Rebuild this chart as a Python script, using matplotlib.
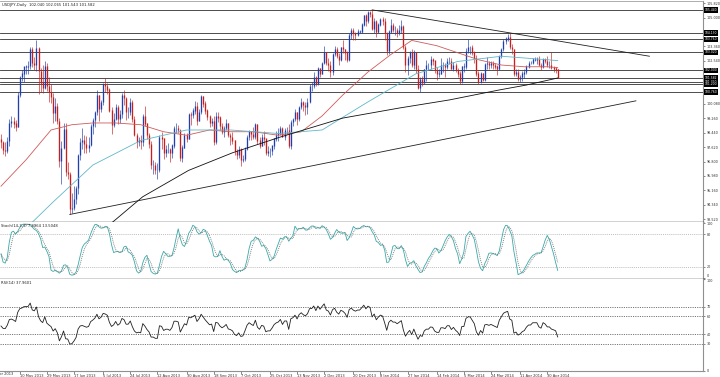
import numpy as np
import pandas as pd
import matplotlib
matplotlib.use("Agg")
import matplotlib.pyplot as plt
import matplotlib.transforms as mtransforms

# ---------------- data (USDJPY daily) ----------------
first_open = 98.05
highs = [
    # Apr 2013
    98.35, 98.00,
    # May
    97.90, 98.20, 99.25, 99.40, 99.35, 99.15, 100.75, 101.65, 102.00, 102.20, 102.30, 102.50, 103.30, 103.35, 102.75, 103.73, 103.30, 102.15, 102.30, 102.50, 102.40, 101.60, 101.20,
    # Jun
    100.70, 100.40, 100.15, 99.30, 98.00, 99.00, 99.00, 96.80, 96.20, 95.00, 95.40, 95.40, 97.25, 98.15, 98.70, 98.30, 98.25, 98.20, 98.95, 99.30,
    # Jul
    99.70, 100.85, 100.60, 100.30, 101.30, 101.55, 101.25, 101.00, 99.90, 99.55, 100.10, 100.00, 99.75, 100.70, 100.85, 100.50, 99.90, 100.40, 100.30, 99.40, 98.40, 98.20, 98.30,
    # Aug
    99.50, 99.95, 99.00, 98.45, 98.00, 96.90, 96.80, 96.70, 98.30, 98.50, 98.15, 97.75, 97.85, 97.60, 97.80, 98.80, 99.00, 98.90, 98.65, 97.75, 98.40, 98.45,
    # Sep
    99.55, 99.60, 99.85, 100.25, 100.20, 99.80, 100.60, 100.55, 100.25, 99.80, 99.45, 99.30, 99.40, 99.65, 99.65, 99.40, 99.00, 98.80, 99.20, 99.00, 98.40,
    # Oct
    98.50, 98.05, 97.50, 97.70, 97.55, 97.20, 97.65, 98.30, 98.60, 98.55, 98.75, 99.00, 98.95, 98.20, 98.35, 98.55, 98.10, 97.70, 97.55, 97.70, 98.15, 98.55, 98.70,
    # Nov
    98.85, 98.75, 98.70, 98.75, 98.95, 99.15, 99.30, 99.80, 99.65, 99.95, 100.40, 100.25, 100.20, 100.40, 101.20, 101.35, 101.90, 101.65, 102.20, 102.15, 102.45,
    # Dec
    103.40, 103.05, 102.70, 102.50, 103.00, 103.40, 103.30, 103.00, 103.35, 103.70, 103.20, 103.10, 104.10, 104.40, 104.40, 104.20, 104.35, 104.30, 104.70, 105.15, 105.20, 105.40,
    # Jan 2014
    105.35, 105.44, 105.00, 104.85, 104.70, 105.00, 105.05, 105.00, 104.20, 104.30, 104.90, 104.70, 104.50, 104.40, 104.60, 104.85, 104.60, 103.45, 102.80, 103.10, 103.20, 103.15, 103.00,
    # Feb
    102.30, 101.60, 101.65, 102.10, 102.60, 102.40, 102.80, 102.70, 102.55, 102.20, 102.10, 102.70, 102.45, 102.40, 102.70, 102.75, 102.70, 102.45, 102.40, 102.15,
    # Mar
    101.95, 102.25, 102.40, 103.25, 103.76, 103.40, 103.45, 103.10, 102.85, 101.95, 101.90, 101.85, 102.40, 102.75, 102.50, 102.55, 102.50, 102.40, 102.30, 102.85, 103.25,
    # Apr
    103.80, 103.90, 104.05, 104.13, 103.50, 103.20, 102.10, 102.05, 101.75, 101.95, 102.05, 102.30, 102.50, 102.55, 102.70, 102.75, 102.75, 102.80, 102.40, 102.70, 102.70, 102.80,
    # May
    102.50, 103.02, 102.25, 102.20, 102.065,
]
lows = [
    97.55, 97.25,
    97.10, 97.30, 97.70, 98.75, 98.70, 98.55, 98.75, 100.50, 101.40, 101.35, 101.80, 101.80, 102.10, 102.20, 102.00, 101.95, 100.65, 100.75, 100.70, 100.95, 100.80, 100.20, 100.15,
    99.00, 99.10, 98.95, 96.50, 95.55, 97.50, 96.00, 95.80, 93.79, 93.90, 94.05, 94.40, 94.95, 96.90, 97.50, 97.30, 97.30, 97.35, 97.70, 98.35,
    98.75, 99.45, 99.10, 99.60, 100.05, 100.75, 100.65, 99.60, 98.35, 98.75, 99.15, 98.95, 99.00, 99.30, 100.00, 99.15, 99.30, 99.45, 99.05, 98.25, 97.55, 97.70, 97.50,
    97.70, 98.80, 98.10, 97.60, 96.40, 96.10, 96.10, 95.80, 96.20, 97.50, 96.95, 97.05, 97.30, 96.75, 97.00, 97.60, 98.40, 98.40, 96.85, 96.80, 97.55, 97.90,
    98.30, 98.90, 99.30, 99.50, 98.90, 99.10, 99.50, 99.90, 99.50, 99.15, 98.75, 98.80, 97.75, 97.80, 99.05, 98.60, 98.35, 98.20, 98.60, 98.20, 97.75,
    97.80, 97.15, 96.95, 97.00, 96.55, 96.80, 96.85, 97.45, 98.05, 98.05, 98.10, 98.10, 97.80, 97.60, 97.75, 97.75, 97.15, 97.10, 97.05, 97.20, 97.50, 97.95, 97.95,
    98.30, 98.20, 98.05, 98.35, 97.60, 97.50, 98.85, 99.10, 98.90, 99.10, 99.80, 99.70, 99.45, 99.50, 100.15, 100.80, 101.00, 101.10, 101.15, 101.60, 101.80,
    102.35, 102.30, 101.95, 101.60, 101.75, 102.80, 102.70, 102.30, 102.50, 103.00, 102.60, 102.45, 102.50, 103.80, 103.70, 103.75, 103.95, 104.10, 104.15, 104.50, 104.50, 104.70,
    105.05, 104.30, 104.15, 103.90, 104.15, 104.50, 104.60, 103.70, 102.85, 102.90, 104.10, 104.20, 104.00, 103.90, 104.00, 104.15, 103.20, 101.90, 101.75, 102.40, 102.20, 102.10, 101.85,
    100.95, 100.76, 101.10, 101.25, 101.40, 102.00, 102.10, 102.30, 101.85, 101.45, 101.60, 101.80, 101.90, 101.60, 102.10, 102.35, 102.05, 101.95, 101.90, 101.60,
    101.20, 101.30, 101.90, 102.10, 103.00, 102.90, 102.85, 102.40, 101.70, 101.20, 101.30, 101.40, 101.40, 102.10, 102.10, 102.15, 102.10, 102.05, 101.75, 102.00, 102.70,
    103.10, 103.50, 103.65, 103.20, 102.95, 101.70, 101.65, 101.40, 101.32, 101.40, 101.55, 101.80, 102.15, 102.35, 102.35, 102.50, 102.35, 102.25, 102.00, 102.15, 102.40, 102.20,
    102.15, 102.10, 101.90, 101.85, 101.543,
]
closes = [
    97.90, 97.45,
    97.40, 97.95, 99.00, 99.10, 98.95, 98.75, 100.60, 101.60, 101.80, 102.20, 102.20, 102.25, 103.20, 102.40, 102.30, 103.25, 101.95, 101.30, 101.00, 102.20, 101.10, 100.75, 100.45,
    99.55, 99.95, 99.10, 96.85, 97.55, 98.65, 96.20, 96.10, 94.10, 94.15, 94.65, 95.30, 97.15, 97.90, 98.00, 97.80, 97.60, 97.75, 98.80, 99.15,
    99.60, 100.60, 99.80, 100.20, 101.20, 101.10, 100.90, 99.70, 98.90, 99.20, 99.90, 99.20, 99.50, 100.60, 100.40, 99.60, 99.60, 100.20, 99.20, 98.30, 97.90, 98.00, 97.90,
    99.40, 98.95, 98.30, 97.80, 96.60, 96.60, 96.30, 96.30, 98.20, 98.10, 97.30, 97.50, 97.50, 97.30, 97.70, 98.70, 98.70, 98.60, 97.00, 97.60, 98.30, 98.10,
    99.50, 99.45, 99.70, 99.95, 99.10, 99.60, 100.50, 100.10, 99.70, 99.35, 99.00, 99.10, 97.90, 99.40, 99.30, 98.80, 98.50, 98.70, 99.00, 98.30, 98.20,
    98.00, 97.40, 97.20, 97.50, 96.90, 96.95, 97.50, 98.20, 98.55, 98.35, 98.20, 98.90, 98.00, 97.70, 98.20, 98.10, 97.30, 97.40, 97.40, 97.70, 98.10, 98.30, 98.40,
    98.70, 98.20, 98.60, 98.60, 97.70, 99.05, 99.20, 99.60, 99.20, 99.90, 100.20, 100.00, 99.90, 100.20, 101.10, 101.10, 101.60, 101.20, 102.10, 101.80, 102.40,
    103.00, 102.40, 102.30, 101.90, 102.90, 103.20, 102.80, 102.60, 103.30, 103.20, 103.00, 102.60, 104.00, 104.30, 104.10, 104.00, 104.20, 104.20, 104.60, 105.10, 104.80, 105.30,
    105.20, 104.35, 104.80, 104.20, 104.60, 104.90, 104.80, 104.10, 103.10, 104.20, 104.55, 104.30, 104.30, 104.10, 104.30, 104.50, 103.30, 102.30, 102.70, 103.00, 102.30, 103.00, 102.05,
    101.00, 101.50, 101.30, 102.05, 102.30, 102.30, 102.60, 102.55, 102.00, 101.80, 101.80, 102.30, 102.30, 102.20, 102.50, 102.50, 102.10, 102.30, 102.00, 101.80,
    101.40, 102.20, 102.20, 103.10, 103.30, 103.30, 103.00, 102.70, 101.80, 101.35, 101.80, 101.45, 102.35, 102.40, 102.30, 102.40, 102.30, 102.20, 102.10, 102.80, 103.20,
    103.65, 103.80, 103.90, 103.30, 103.20, 101.80, 101.90, 101.50, 101.60, 101.80, 101.90, 102.20, 102.40, 102.40, 102.60, 102.60, 102.60, 102.30, 102.20, 102.60, 102.50, 102.30,
    102.30, 102.15, 102.10, 102.04, 101.582,
]

# moving averages (date, value)
ma_red_dates = ['2013-04-29', '2013-05-15', '2013-05-31', '2013-06-14', '2013-06-28', '2013-07-15', '2013-07-31',
                '2013-08-15', '2013-08-30', '2013-09-16', '2013-09-30', '2013-10-15', '2013-10-31', '2013-11-15',
                '2013-11-29', '2013-12-13', '2013-12-31', '2014-01-15', '2014-01-29', '2014-02-14', '2014-02-28',
                '2014-03-14', '2014-03-31', '2014-04-15', '2014-04-30', '2014-05-07']
ma_red_vals = [95.4, 96.9, 98.6, 98.9, 99.0, 99.0, 98.9, 98.5, 98.3, 98.6, 98.5, 98.5, 98.3, 98.5,
               99.4, 100.6, 101.9, 102.9, 103.7, 103.4, 103.0, 102.6, 102.3, 102.2, 102.2, 102.15]
ma_cyan_dates = ['2013-05-15', '2013-06-03', '2013-06-28', '2013-07-31', '2013-08-30', '2013-09-30', '2013-10-31',
                 '2013-11-29', '2013-12-31', '2014-01-31', '2014-02-28', '2014-03-31', '2014-04-30', '2014-05-07']
ma_cyan_vals = [93.0, 94.5, 96.6, 98.0, 98.6, 98.6, 98.4, 98.6, 100.2, 101.8, 102.5, 102.8, 102.6, 102.55]
ma_black_dates = ['2013-06-20', '2013-07-12', '2013-08-01', '2013-09-02', '2013-10-01', '2013-11-01', '2013-12-13',
                  '2014-01-21', '2014-02-24', '2014-03-28', '2014-04-16', '2014-05-07']
ma_black_vals = [92.0, 93.4, 94.8, 96.3, 97.3, 98.2, 99.28, 99.85, 100.31, 100.88, 101.16, 101.56]

# horizontal levels with their axis boxes
level_prices = [105.44, 104.13, 103.76, 103.02, 102.00, 101.582, 101.32, 101.20, 100.76]
level_labels = ['105.440', '104.130', '103.760', '103.020', '102.000', '101.582', '101.320', '101.200', '100.760']

# trend lines: (bar index, price) endpoints
trend_down = [(178, 105.44), (311, 102.80)]
trend_up = [(33, 93.79), (304.5, 100.26)]

price_ticks = [105.820, 105.000, 104.180, 103.360, 102.540, 101.720, 100.900, 100.080, 99.260,
               98.440, 97.620, 96.800, 95.980, 95.160, 94.340, 93.520]
hidden_price_labels = [104.180, 101.720, 100.900]   # covered by the level boxes
date_labels = ['22 Apr 2013', '10 May 2013', '29 May 2013', '17 Jun 2013', '5 Jul 2013', '24 Jul 2013',
               '12 Aug 2013', '30 Aug 2013', '18 Sep 2013', '7 Oct 2013', '25 Oct 2013', '13 Nov 2013',
               '2 Dec 2013', '20 Dec 2013', '8 Jan 2014', '27 Jan 2014', '14 Feb 2014', '5 Mar 2014',
               '24 Mar 2014', '11 Apr 2014', '30 Apr 2014']

# ---------------- prepare ----------------
dates = pd.bdate_range('2013-04-29', '2014-05-07')
n = len(dates)
assert len(highs) == n and len(lows) == n and len(closes) == n, (len(highs), len(lows), len(closes), n)
c = np.array(closes, float)
o = np.array([first_open] + closes[:-1], float)
h = np.maximum(np.array(highs, float), np.maximum(o, c))
l = np.minimum(np.array(lows, float), np.minimum(o, c))
x = np.arange(n)

def idx_of(ds):
    return dates.get_indexer(pd.to_datetime(ds))

# indicators from the price data
hs, ls, cs = pd.Series(h), pd.Series(l), pd.Series(c)
hh = hs.rolling(14, min_periods=1).max()
ll = ls.rolling(14, min_periods=1).min()
num = (cs - ll).rolling(3, min_periods=1).sum()
den = (hh - ll).rolling(3, min_periods=1).sum()
stoch_k = 100 * num / den
stoch_d = stoch_k.rolling(3, min_periods=1).mean()

delta = np.diff(np.concatenate([[o[0]], c]))
ag, al = 0.33, 0.33          # neutral starting averages (Wilder smoothing)
rsi = []
for d in delta:
    ag = (ag * 13 + max(d, 0)) / 14
    al = (al * 13 + max(-d, 0)) / 14
    rsi.append(100 - 100 / (1 + ag / al))
rsi = np.array(rsi)

# ---------------- figure ----------------
W, H = 720, 377
plt.rcParams['font.family'] = ['DejaVu Sans']
fig = plt.figure(figsize=(W/100, H/100), dpi=100)
fig.patch.set_facecolor('white')

def add_ax(top, bottom):
    return fig.add_axes([0, 1 - bottom / H, 703 / W, (bottom - top) / H])

ax = add_ax(1, 222)
axs = add_ax(222, 279)
axr = add_ax(279, 371)

px = 2.085
xmin = -1 / px
xmax = xmin + 703 / px
for a in (ax, axs, axr):
    a.set_xlim(xmin, xmax)
    a.set_facecolor('white')
    a.spines['left'].set_visible(False)
    a.spines['right'].set_color('#909090')
    a.spines['right'].set_linewidth(0.8)
    a.yaxis.tick_right()
    a.tick_params(axis='y', labelsize=2.4, length=1.5, width=0.4, pad=1, colors='#303030')
    a.tick_params(axis='x', bottom=False, labelbottom=False)
ax.spines['top'].set_color('#a0a0a0')
ax.spines['top'].set_linewidth(0.6)
for a in (axs, axr):
    a.spines['top'].set_visible(False)
ax.spines['bottom'].set_color('#202020'); ax.spines['bottom'].set_linewidth(1.0)
axs.spines['bottom'].set_color('#202020'); axs.spines['bottom'].set_linewidth(1.0)
axr.spines['bottom'].set_color('#909090'); axr.spines['bottom'].set_linewidth(0.8)

# main price panel
ax.set_ylim(93.36, 105.945)
ax.set_yticks(price_ticks)
ax.set_yticklabels(['' if v in hidden_price_labels else f'{v:.3f}' for v in price_ticks])

up = c >= o
col = np.where(up, '#1f3fb0', '#c81e1e')
ax.vlines(x, l, h, colors=col, lw=0.45, zorder=3)
ax.vlines(x, np.minimum(o, c), np.maximum(o, c) + 0.02, colors=col, lw=0.95, zorder=3)

ax.plot(idx_of(ma_red_dates), ma_red_vals, color='#d05a5a', lw=0.6, zorder=4)
ax.plot(idx_of(ma_cyan_dates), ma_cyan_vals, color='#5fb8c8', lw=0.6, zorder=4)
ax.plot(idx_of(ma_black_dates), ma_black_vals, color='#101010', lw=0.6, zorder=4)

for p in level_prices:
    ax.axhline(p, color='#303030', lw=0.6, zorder=2)
ax.plot([trend_down[0][0], trend_down[1][0]], [trend_down[0][1], trend_down[1][1]], color='#202020', lw=0.6, zorder=4)
ax.plot([trend_up[0][0], trend_up[1][0]], [trend_up[0][1], trend_up[1][1]], color='#202020', lw=0.6, zorder=4)

trans = mtransforms.blended_transform_factory(ax.transAxes, ax.transData)
for p, lab in zip(level_prices, level_labels):
    ax.text(1.0 + 1.5 / 703, p, lab, transform=trans, fontsize=2.2, color='white', va='center', ha='left',
            clip_on=False, zorder=10,
            bbox=dict(boxstyle='square,pad=0.25', fc='black', ec='black', lw=0))

fig.text(2 / W, 1 - 5 / H, 'USDJPY,Daily  102.040 102.065 101.543 101.582', fontsize=2.7,
         color='#202020', va='center', ha='left')

# stochastic panel
axs.set_ylim(-2, 102)
axs.set_yticks([100, 80, 20, 0])
axs.set_yticklabels(['100', '80', '20', '0'])
axs.get_yticklabels()[-1].set_va('bottom')
for lv in (80, 20):
    axs.axhline(lv, color='#a8a8a8', lw=0.5, ls=(0, (1.5, 1.5)))
axs.plot(x, stoch_k, color='#3aa8a8', lw=0.6)
axs.plot(x, stoch_d, color='#707878', lw=0.6, ls=(0, (1.2, 1.2)))
fig.text(1 / W, 1 - 226 / H, 'Stoch(14,3,3) 7.4964 13.5048', fontsize=2.7, color='#202020', va='center', ha='left')

# RSI panel
axr.set_ylim(0, 100.5)
axr.set_yticks([100, 70, 60, 40, 30, 0])
axr.set_yticklabels(['100', '70', '60', '40', '30', '0'])
axr.get_yticklabels()[0].set_va('top')
for lv in (70, 60, 40, 30):
    axr.axhline(lv, color='#505050', lw=0.55, ls=(0, (1.5, 1.5)))
axr.plot(x, rsi, color='#202020', lw=0.6)
fig.text(1 / W, 1 - 283 / H, 'RSI(14) 37.9601', fontsize=2.7, color='#202020', va='center', ha='left')

# time axis
day_stamps = [pd.to_datetime(d, format='%d %b %Y') for d in date_labels]
pos = []
for d in day_stamps:
    k = dates.searchsorted(d)
    pos.append(float(k) if (k < n and dates[k] == d) else (d - dates[0]).days * 5 / 7)
inside = [i for i, p in enumerate(pos) if p >= xmin]
axr.set_xticks([pos[i] for i in inside])
axr.set_xticklabels([date_labels[i] for i in inside])
axr.tick_params(axis='x', bottom=True, labelbottom=True, length=2, width=0.4, pad=0.5,
                labelsize=2.6, colors='#303030', direction='out')
for t in axr.get_xticklabels():
    t.set_ha('left')
tx = mtransforms.blended_transform_factory(axr.transData, fig.transFigure)
for i, p in enumerate(pos):
    if p < xmin:
        axr.text(p, 1 - 374.5 / H, date_labels[i], transform=tx, fontsize=2.6, color='#303030',
                 ha='left', va='center', clip_on=False)

fig.savefig('out.png', dpi=100, facecolor='white')
